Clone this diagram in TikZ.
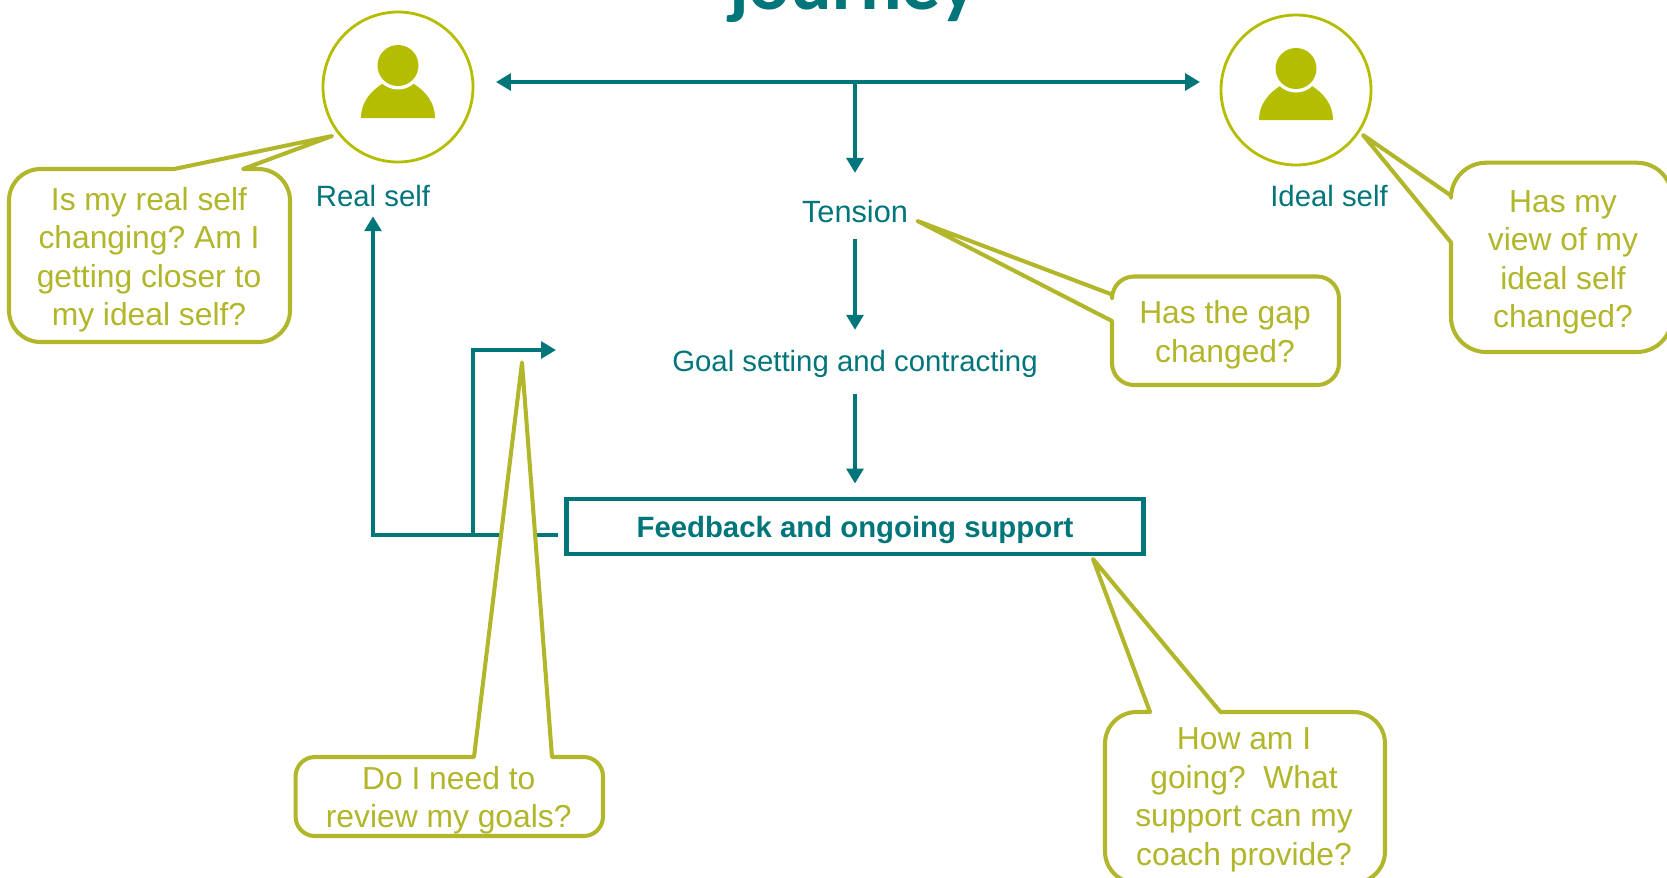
\documentclass[tikz,border=0pt]{standalone}
\usepackage{fontspec}
\setmainfont{Liberation Sans}
\newfontfamily\titlefont{Carlito}
\usetikzlibrary{arrows.meta}
\definecolor{deepteal}{HTML}{00757A}
\definecolor{ringgreen}{HTML}{B5BD00}
\definecolor{askgreen}{HTML}{B1B62A}
\tikzset{
	flow/.style={draw=deepteal, line width=2.8pt, -{Triangle[length=8.5pt,width=9.5pt]}},
	stage/.style={text=deepteal, font=\fontsize{16.7}{20}\selectfont, text height=12.5pt, text depth=3.4pt, inner ysep=6.25pt, inner xsep=0pt},
	ask/.style={text=askgreen, font=\frenchspacing\fontsize{18.1}{21.9}\selectfont, align=center, inner sep=0pt},
	askline/.style={draw=askgreen, fill=white, line width=2.3pt, line join=round},
	ring/.style={circle, draw=ringgreen, line width=1.6pt, minimum size=150*0.02cm, inner sep=0pt}
}
\begin{document}
\begin{tikzpicture}[x=0.02cm, y=-0.02cm]
	\clip (0,0) rectangle (1667,877);
	\fill[white] (0,0) rectangle (1667,877);
	\node[text=deepteal, anchor=base, font=\titlefont\bfseries\fontsize{44.2}{50}\selectfont] (Title) at (853,9) {journey};
	% self circles
	\node[ring] (RealRing) at (398,87) {};
	\node[ring] (IdealRing) at (1296,90) {};
	\fill[ringgreen] (361,118) .. controls (361,102) and (371,91) .. (382,84) -- (414,84) .. controls (425,91) and (435,102) .. (435,118) -- cycle;
	\fill[white] (398,65.5) circle (24);
	\fill[ringgreen] (398,65.5) circle (20.5);
	\fill[ringgreen] (1259,120) .. controls (1259,104) and (1269,93) .. (1280,86) -- (1312,86) .. controls (1323,93) and (1333,104) .. (1333,120) -- cycle;
	\fill[white] (1296,68.5) circle (24);
	\fill[ringgreen] (1296,68.5) circle (20.5);
	% stages
	\node[stage] (RealSelf) at (373,198) {Real self};
	\node[stage] (IdealSelf) at (1329,198) {Ideal self};
	\node[stage, font=\fontsize{17.5}{20}\selectfont] (Tension) at (855,214) {Tension};
	\node[stage] (Goal) at (855,363) {Goal setting and contracting};
	\node[draw=deepteal, line width=2.6pt, text=deepteal, font=\bfseries\fontsize{16.7}{20}\selectfont, text height=15.5pt, text depth=3.5pt, minimum width=577*0.02cm, minimum height=55*0.02cm, inner sep=0pt] (Feedback) at (855,526.5) {Feedback and ongoing support};
	\coordinate (GapL) at (496,82);
	\coordinate (GapR) at (1200,82);
	\coordinate (GapM) at (855,82);
	\coordinate (BackStart) at (558,535);
	\coordinate (BackSplit) at (473,535);
	\coordinate (GoalIn) at (556,350);
	\draw[flow, {Triangle[length=8.5pt,width=9.5pt]}-{Triangle[length=8.5pt,width=9.5pt]}] (GapL) -- (GapR);
	\draw[flow, shorten >=9pt] (GapM) -- (Tension.north);
	\draw[flow, shorten >=4.5pt] (Tension.south) -- (Goal.north);
	\draw[flow, shorten <=3.5pt, shorten >=7.5pt] (Goal.south) -- (Feedback.north);
	\draw[flow, shorten >=-4pt] (BackStart) -| (RealSelf.south);
	\draw[flow] (BackSplit) |- (GoalIn);
	% callouts
	\coordinate (RealTip) at (332,136);
	\coordinate (IdealTip) at (1363,135);
	\coordinate (GapTip) at (917.5,221);
	\coordinate (GoalTip) at (522,362.5);
	\coordinate (FeedTip) at (1093,559);
	\draw[askline] (RealTip) -- (243,169) [rounded corners=18pt] -- (290,169) -- (290,342) -- (9,342) -- (9,169) [sharp corners] -- (174,169) -- cycle;
	\draw[askline] (IdealTip) -- (1451,195.6) [rounded corners=20pt] -- (1451,162.7) -- (1672,162.7) -- (1672,352) -- (1451,352) [sharp corners] -- (1451,242.4) -- cycle;
	\draw[askline] (GapTip) -- (1112,294.5) [rounded corners=12.5pt] -- (1112,276.5) -- (1339,276.5) -- (1339,385) -- (1112,385) [sharp corners] -- (1112,321) -- cycle;
	\draw[askline] (GoalTip) -- (552,757) [rounded corners=11pt] -- (603,757) -- (603,836) -- (295.6,836) -- (295.6,757) [sharp corners] -- (474,757) -- cycle;
	\draw[askline] (FeedTip) -- (1220.5,712) [rounded corners=18pt] -- (1385,712) -- (1385,883) -- (1105,883) -- (1105,712) [sharp corners] -- (1150,712) -- cycle;
	\node[ask] (RealAsk) at (149,260) {Is my real self\\changing? Am I\\getting closer to\\my ideal self?};
	\node[ask] (IdealAsk) at (1563,262.5) {Has my\\view of my\\ideal self\\changed?};
	\node[ask] (GapAsk) at (1225,335) {Has the gap\\changed?};
	\node[ask] (GoalAsk) at (448.7,800) {Do I need to\\review my goals?};
	\node[ask] (FeedAsk) at (1244,800) {How am I\\going?\ \ What\\support can my\\coach provide?};
\end{tikzpicture}
\end{document}
